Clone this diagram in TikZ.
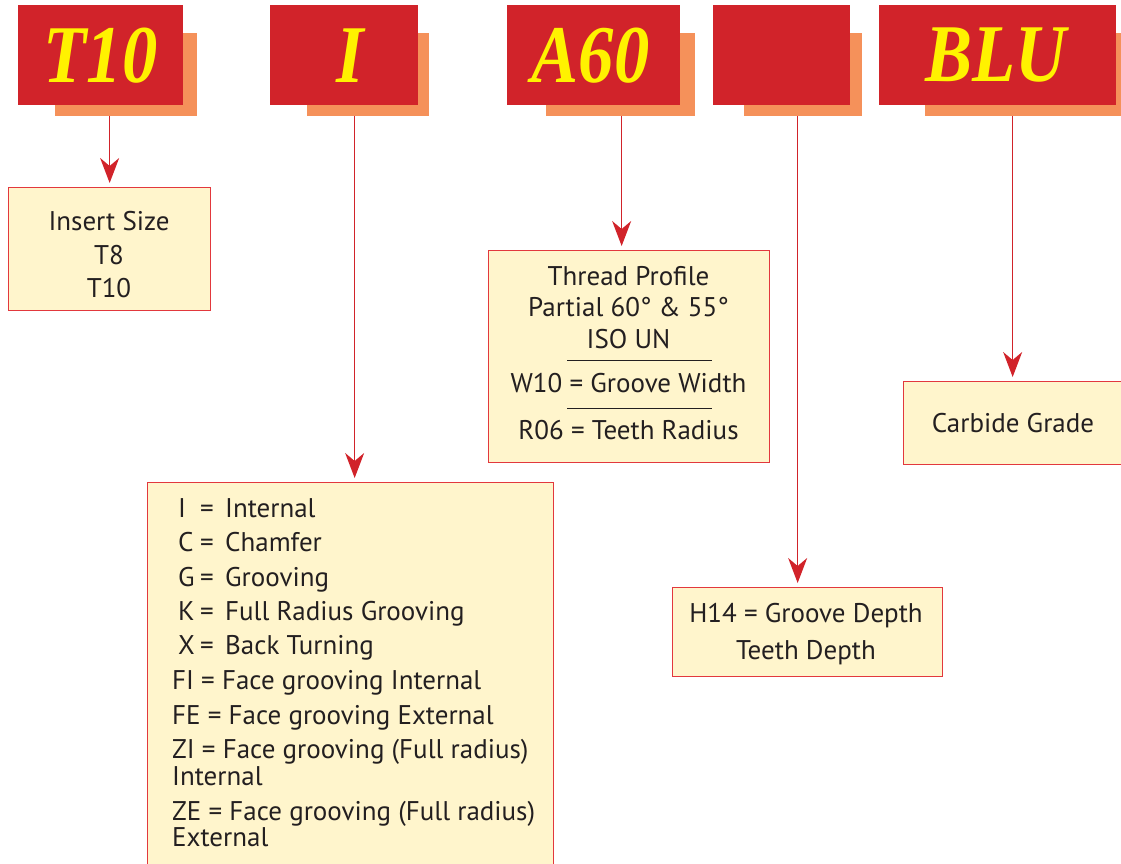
\documentclass[tikz,border=0pt]{standalone}
\usepackage{fontspec}
\setmainfont{PT Sans}
\newfontfamily\hfont[FakeStretch=0.86]{Liberation Serif}
\usetikzlibrary{arrows.meta}
\definecolor{hred}{HTML}{D1232A}
\definecolor{hshadow}{HTML}{F5915A}
\definecolor{hyellow}{HTML}{FFF200}
\definecolor{bfill}{HTML}{FFF5CC}
\definecolor{bline}{HTML}{E2383D}
\definecolor{ared}{HTML}{D1232A}
\definecolor{txt}{HTML}{231F20}
\tikzset{
  hdr/.style={fill=hred, inner sep=0pt, anchor=north west, text=hyellow,
    font=\hfont\bfseries\itshape\fontsize{82}{82}\selectfont},
  shd/.style={fill=hshadow, inner sep=0pt, anchor=north west},
  infobox/.style={fill=bfill, draw=bline, line width=1.3pt, inner sep=0pt, anchor=north west},
  body/.style={text=txt, inner sep=0pt, font=\fontsize{27}{33.5}\selectfont},
  arr/.style={draw=ared, line width=1.6pt, -{Stealth[length=25pt,width=19pt,inset=8pt]}, shorten >=4pt},
  rulel/.style={draw=txt, line width=1pt}
}
\begin{document}
\begin{tikzpicture}[x=1pt,y=-1pt]
\useasboundingbox (0,0) rectangle (1121,863);
% shadows
\node[shd, minimum width=142pt, minimum height=83pt] (sT10) at (55,33) {};
\node[shd, minimum width=122pt, minimum height=83pt] (sI) at (307,33) {};
\node[shd, minimum width=149pt, minimum height=83pt] (sA60) at (546,33) {};
\node[shd, minimum width=118pt, minimum height=83pt] (sH) at (744,33) {};
\node[shd, minimum width=200pt, minimum height=83pt] (sBLU) at (925,33) {};
% headers
\node[hdr, minimum width=165pt, minimum height=100pt] (hT10) at (18,5) {T10};
\node[hdr, minimum width=148pt, minimum height=100pt] (hI) at (270,5) {\hspace*{12pt}I};
\node[hdr, minimum width=173pt, minimum height=100pt] (hA60) at (507,5) {A60\hspace*{6pt}};
\node[hdr, minimum width=137pt, minimum height=100pt] (hH) at (713,5) {};
\node[hdr, minimum width=237pt, minimum height=100pt] (hBLU) at (879,5) {BLU\hspace*{4pt}};
% info boxes
\node[infobox, minimum width=202pt, minimum height=123pt] (bT10) at (8,187) {};
\node[infobox, minimum width=406pt, minimum height=400pt] (bI) at (147,482) {};
\node[infobox, minimum width=281pt, minimum height=212pt] (bA60) at (488,250) {};
\node[infobox, minimum width=270pt, minimum height=89pt] (bH) at (672,587) {};
\node[infobox, minimum width=219pt, minimum height=83pt] (bBLU) at (903,381) {};
% T10 box text
\node[body, anchor=base] (t1) at (109,230) {Insert Size};
\node[body, anchor=base] (t2) at (109,264) {T8};
\node[body, anchor=base] (t3) at (109,297) {T10};
% A60 box text
\node[body, anchor=base] (a1) at (628.5,285) {Thread Profile};
\node[body, anchor=base] (a2) at (628.5,316) {Partial 60° \& 55°};
\node[body, anchor=base] (a3) at (628.5,348) {ISO UN};
\draw[rulel] (567,360) -- (712,360);
\node[body, anchor=base] (a4) at (628.5,392) {W10 = Groove Width};
\draw[rulel] (567,408) -- (712,408);
\node[body, anchor=base] (a5) at (628.5,439) {R06 = Teeth Radius};
% H box text
\node[body, anchor=base] (h1) at (806,622) {H14 = Groove Depth};
\node[body, anchor=base] (h2) at (806,659) {Teeth Depth};
% BLU box text
\node[body, anchor=base] (c1) at (1013,432) {Carbide Grade};
% I box text
\node[body, anchor=base west] (i1) at (178,517) {\makebox[22pt][l]{I}\makebox[25pt][l]{=}Internal};
\node[body, anchor=base west] (i2) at (178,551) {\makebox[22pt][l]{C}\makebox[25pt][l]{=}Chamfer};
\node[body, anchor=base west] (i3) at (178,586) {\makebox[22pt][l]{G}\makebox[25pt][l]{=}Grooving};
\node[body, anchor=base west] (i4) at (178,620) {\makebox[22pt][l]{K}\makebox[25pt][l]{=}Full Radius Grooving};
\node[body, anchor=base west] (i5) at (178,654) {\makebox[22pt][l]{X}\makebox[25pt][l]{=}Back Turning};
\node[body, anchor=base west] (i6) at (172,689) {FI = Face grooving Internal};
\node[body, anchor=base west] (i7) at (172,724) {FE = Face grooving External};
\node[body, anchor=base west] (i8) at (172,758) {ZI = Face grooving (Full radius)};
\node[body, anchor=base west] (i9) at (172,785) {Internal};
\node[body, anchor=base west] (i10) at (172,820) {ZE = Face grooving (Full radius)};
\node[body, anchor=base west] (i11) at (172,846) {External};
% connectors
\coordinate (cT10) at (bT10.north);
\coordinate (cI) at ([xshift=4pt]bI.north);
\coordinate (cA60) at ([xshift=-7.5pt]bA60.north);
\coordinate (cH) at ([xshift=-10pt]bH.north);
\coordinate (cBLU) at ([xshift=-0.5pt]bBLU.north);
\draw[arr] (cT10 |- sT10.south) -- (cT10);
\draw[arr] (cI |- sI.south) -- (cI);
\draw[arr] (cA60 |- sA60.south) -- (cA60);
\draw[arr] (cH |- sH.south) -- (cH);
\draw[arr] (cBLU |- sBLU.south) -- (cBLU);
\end{tikzpicture}
\end{document}
